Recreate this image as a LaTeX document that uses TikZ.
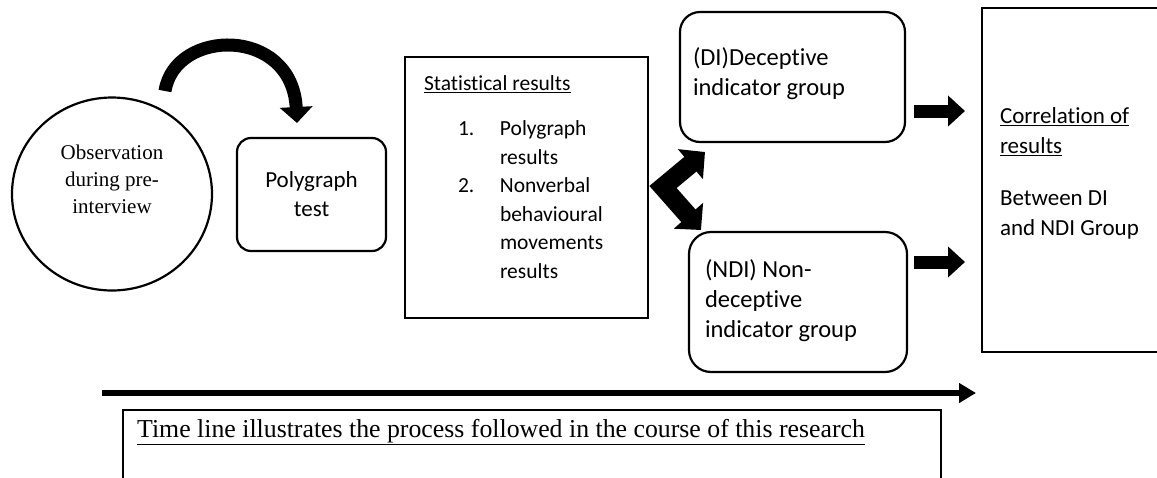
\documentclass[tikz,border=0pt]{standalone}
\usepackage{fontspec}
\setmainfont{Liberation Serif}
\newfontfamily\carlito[Ligatures=NoCommon]{Carlito}
\usetikzlibrary{arrows.meta}
\usetikzlibrary{shapes.geometric}
\usetikzlibrary{calc}

\tikzset{
  roundbox/.style={draw, line width=2.2pt, rounded corners=18pt, align=flush left, font=\carlito\fontsize{24.5}{30}\selectfont},
  squarebox/.style={draw, line width=2.2pt, align=flush left, font=\carlito\fontsize{23}{30}\selectfont},
  blockarrow/.style={line width=13pt, -{Triangle[length=17pt,width=30pt]}},
}

\newcommand{\listitem}[2]{\hspace*{34pt}\makebox[42pt][l]{#1}#2}

\begin{document}
\begin{tikzpicture}[x=1pt,y=-1pt]
\clip (0,0) rectangle (1157,477);

\node[draw, ellipse, line width=2.2pt, minimum width=200pt, minimum height=193pt, inner sep=0pt] (obs) at (112,194) {};
\node[align=center, font=\fontsize{21}{27}\selectfont] (obstext) at (112,179) {Observation\\during pre-\\interview};

\node[roundbox, rounded corners=14pt, align=center, minimum width=149pt, minimum height=113pt, font=\carlito\fontsize{23}{29}\selectfont] (poly) at (311.5,194.5) {Polygraph\\test};

\node[squarebox, text width=205pt, inner xsep=19pt, minimum height=261pt, font=\carlito\fontsize{21.5}{28.6}\selectfont] (stats) at (526.5,187.5) {\underline{Statistical results}\\[16pt]
  \listitem{1.}{Polygraph}\\
  \hspace*{76pt}results\\
  \listitem{2.}{Nonverbal}\\
  \hspace*{76pt}behavioural\\
  \hspace*{76pt}movements\\
  \hspace*{76pt}results\\[-8pt]\mbox{}};

\node[roundbox, rounded corners=20pt, text width=199pt, inner xsep=13pt, minimum height=130pt] (di) at (792.5,77) {(DI)Deceptive\\indicator group\\[-20pt]\mbox{}};
\node[roundbox, rounded corners=22pt, text width=186pt, inner xsep=16pt, minimum height=140pt] (ndi) at (798,302) {(NDI) Non-\\deceptive\\indicator group\\[-24pt]\mbox{}};
\node[squarebox, text width=152pt, inner xsep=18pt, minimum height=344pt] (corr) at (1076,180) {\underline{Correlation of}\\\underline{results}\\[22pt]Between DI\\and NDI Group\\[-14pt]\mbox{}};

% arrows between the steps
\coordinate (obs-out) at (165,91);
\coordinate (poly-in) at (297,123);
\draw[line width=13pt, -{Triangle[length=16pt,width=32pt]}] (obs-out) .. controls (175,28) and (292,26) .. (poly-in);

\coordinate (fork) at (663,187);
\coordinate (di-in) at (705,152);
\coordinate (ndi-in) at (701,230);
\draw[line width=19pt, line join=miter, {Triangle[length=19pt,width=38pt]}-{Triangle[length=19pt,width=38pt]}] (di-in) -- (fork) -- (ndi-in);

\coordinate (di-out) at (914,111);
\coordinate (corr-in1) at (965,111);
\coordinate (ndi-out) at (914,262);
\coordinate (corr-in2) at (965,262);
\draw[blockarrow] (di-out) -- (corr-in1);
\draw[blockarrow] (ndi-out) -- (corr-in2);

% time line
\coordinate (tl-start) at (102,393);
\coordinate (tl-end) at (976,393);
\draw[line width=6pt, -{Triangle[length=17pt,width=19pt]}] (tl-start) -- (tl-end);

\node[draw, line width=1.5pt, anchor=north west, minimum width=818pt, minimum height=100pt, inner sep=0pt] (tlbox) at (122,409) {};
\node[anchor=base west, font=\fontsize{25.8}{30}\selectfont, inner sep=0pt] (tltext) at ($(tlbox.north west)+(15,28)$) {\underline{Time line illustrates the process followed in the course of this research}};

\end{tikzpicture}
\end{document}
